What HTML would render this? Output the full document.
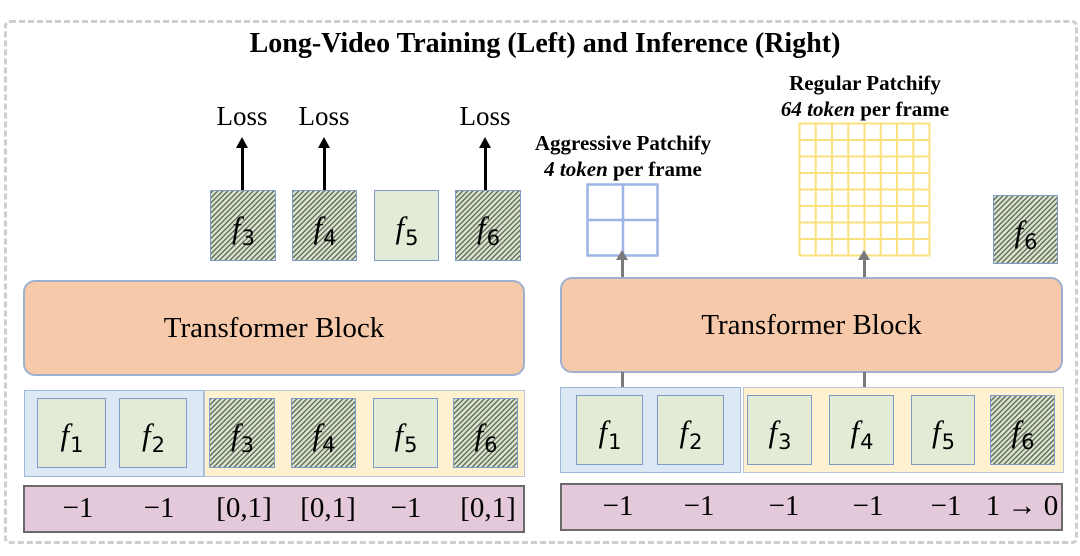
<!DOCTYPE html>
<html><head><meta charset="utf-8"><style>
body{margin:0;background:#fff;}
#c{position:relative;width:1080px;height:556px;overflow:hidden;font-family:"Liberation Serif",serif;}
.a{position:absolute;box-sizing:border-box;}
.outer{left:4px;top:20px;width:1074px;height:524px;border:3px dashed #cfcfcf;border-radius:6px;}
.tb{background:#f6c9ab;border:2px solid #9fb0cf;border-radius:12px;display:flex;align-items:center;justify-content:center;font-size:29px;}
.g{background:#e1ebd6;border:1.5px solid #7f9ac9;}
.h{border:1.5px solid #7f9ac9;background:repeating-linear-gradient(-45deg,#d8e2cd 0 2.2px,#66715f 2.2px 3.6px);}
.f{display:flex;align-items:center;justify-content:center;font-size:31px;padding-top:4px;}
.f span{display:inline-block;white-space:nowrap;}
.f i{font-style:italic;}
.f b{font-weight:normal;font-size:21px;position:relative;top:7px;left:1px;font-family:"DejaVu Sans",sans-serif;}
.blue{background:#dce8f4;border:1.5px solid #9db8dc;}
.yel{background:#fdf1cf;border:1.5px solid #b9c6dc;}
.pur{background:#e3c9d9;border:2px solid #6a6a6a;}
.v{position:absolute;top:5px;font-size:29px;transform:translateX(-50%);white-space:nowrap;}
.loss{position:absolute;font-size:27px;transform:translateX(-50%);top:101px;}
.ar{position:absolute;width:3px;background:#000;}
.ar:before{content:"";position:absolute;left:-5px;top:-9px;border-left:6.5px solid transparent;border-right:6.5px solid transparent;border-bottom:11px solid #000;}
.gr{position:absolute;width:3px;background:#7a7a7a;}
.gh:before{content:"";position:absolute;left:-5px;top:-8px;border-left:6.5px solid transparent;border-right:6.5px solid transparent;border-bottom:10px solid #7a7a7a;}
.lab{position:absolute;font-weight:bold;font-size:21px;transform:translateX(-50%);white-space:nowrap;text-align:center;line-height:26px;}
</style></head><body><div id="c">
<div class="a outer"></div>
<div class="a" style="left:0;width:1090px;top:28px;text-align:center;font-weight:bold;font-size:28px;">Long-Video Training (Left) and Inference (Right)</div>

<div class="loss" style="left:242px">Loss</div>
<div class="loss" style="left:324px">Loss</div>
<div class="loss" style="left:485px">Loss</div>
<div class="ar" style="left:241px;top:146px;height:44px"></div>
<div class="ar" style="left:323px;top:146px;height:44px"></div>
<div class="ar" style="left:484px;top:146px;height:44px"></div>

<div class="a h f" style="left:210px;top:190px;width:66px;height:71px"><span><i>f</i><b>3</b></span></div>
<div class="a h f" style="left:292px;top:190px;width:65px;height:71px"><span><i>f</i><b>4</b></span></div>
<div class="a g f" style="left:374px;top:190px;width:65px;height:71px"><span><i>f</i><b>5</b></span></div>
<div class="a h f" style="left:455px;top:190px;width:66px;height:71px"><span><i>f</i><b>6</b></span></div>

<div class="a tb" style="left:23px;top:280px;width:502px;height:96px">Transformer Block</div>
<div class="a blue" style="left:24px;top:390px;width:180px;height:87px"></div>
<div class="a yel" style="left:204px;top:390px;width:321px;height:87px"></div>
<div class="a g f" style="left:37px;top:398px;width:69px;height:70px"><span><i>f</i><b>1</b></span></div>
<div class="a g f" style="left:119px;top:398px;width:68px;height:70px"><span><i>f</i><b>2</b></span></div>
<div class="a h f" style="left:209px;top:398px;width:66px;height:70px"><span><i>f</i><b>3</b></span></div>
<div class="a h f" style="left:291px;top:398px;width:65px;height:70px"><span><i>f</i><b>4</b></span></div>
<div class="a g f" style="left:373px;top:398px;width:65px;height:70px"><span><i>f</i><b>5</b></span></div>
<div class="a h f" style="left:453px;top:398px;width:65px;height:70px"><span><i>f</i><b>6</b></span></div>
<div class="a pur" style="left:23px;top:485px;width:502px;height:48px">
<span class="v" style="left:53px">−1</span><span class="v" style="left:134px">−1</span><span class="v" style="left:219px">[0,1]</span><span class="v" style="left:303px">[0,1]</span><span class="v" style="left:381px">−1</span><span class="v" style="left:463px">[0,1]</span></div>

<!-- right -->
<div class="lab" style="left:623px;top:130px">Aggressive Patchify<br><i>4 token</i> per frame</div>
<div class="lab" style="left:865px;top:70px">Regular Patchify<br><i>64 token</i> per frame</div>
<svg class="a" style="left:586px;top:183px" width="74" height="75"><g stroke="#9db4e6" stroke-width="2.5" fill="#fff"><rect x="1.5" y="1.5" width="70" height="71"/><line x1="37" y1="1" x2="37" y2="74"/><line x1="1" y1="37" x2="73" y2="37"/></g></svg>
<svg class="a" style="left:798px;top:122px" width="134" height="136"><g stroke="#fbe07e" stroke-width="2" fill="#fff"><rect x="1.5" y="1.5" width="130" height="132"/>
<path d="M17.75 1V134M34 1V134M50.25 1V134M66.5 1V134M82.75 1V134M99 1V134M115.25 1V134M1 18H132M1 34.5H132M1 51H132M1 67.5H132M1 84H132M1 100.5H132M1 117H132"/></g></svg>
<div class="a h f" style="left:993px;top:195px;width:65px;height:69px"><span><i>f</i><b>6</b></span></div>
<div class="gr gh" style="left:621px;top:258px;height:22px"></div>
<div class="gr gh" style="left:863px;top:258px;height:22px"></div>
<div class="a tb" style="left:560px;top:277px;width:503px;height:96px">Transformer Block</div>
<div class="gr" style="left:621px;top:372px;height:16px"></div>
<div class="gr" style="left:863px;top:372px;height:16px"></div>
<div class="a blue" style="left:560px;top:387px;width:181px;height:86px"></div>
<div class="a yel" style="left:743px;top:387px;width:321px;height:86px"></div>
<div class="a g f" style="left:576px;top:395px;width:67px;height:70px"><span><i>f</i><b>1</b></span></div>
<div class="a g f" style="left:657px;top:395px;width:67px;height:70px"><span><i>f</i><b>2</b></span></div>
<div class="a g f" style="left:747px;top:395px;width:65px;height:70px"><span><i>f</i><b>3</b></span></div>
<div class="a g f" style="left:829px;top:395px;width:65px;height:70px"><span><i>f</i><b>4</b></span></div>
<div class="a g f" style="left:911px;top:395px;width:64px;height:70px"><span><i>f</i><b>5</b></span></div>
<div class="a h f" style="left:990px;top:395px;width:65px;height:70px"><span><i>f</i><b>6</b></span></div>
<div class="a pur" style="left:560px;top:483px;width:503px;height:48px">
<span class="v" style="left:56px">−1</span><span class="v" style="left:137px">−1</span><span class="v" style="left:222px">−1</span><span class="v" style="left:306px">−1</span><span class="v" style="left:384px">−1</span><span class="v" style="left:460px">1 → 0</span></div>
</div></body></html>
